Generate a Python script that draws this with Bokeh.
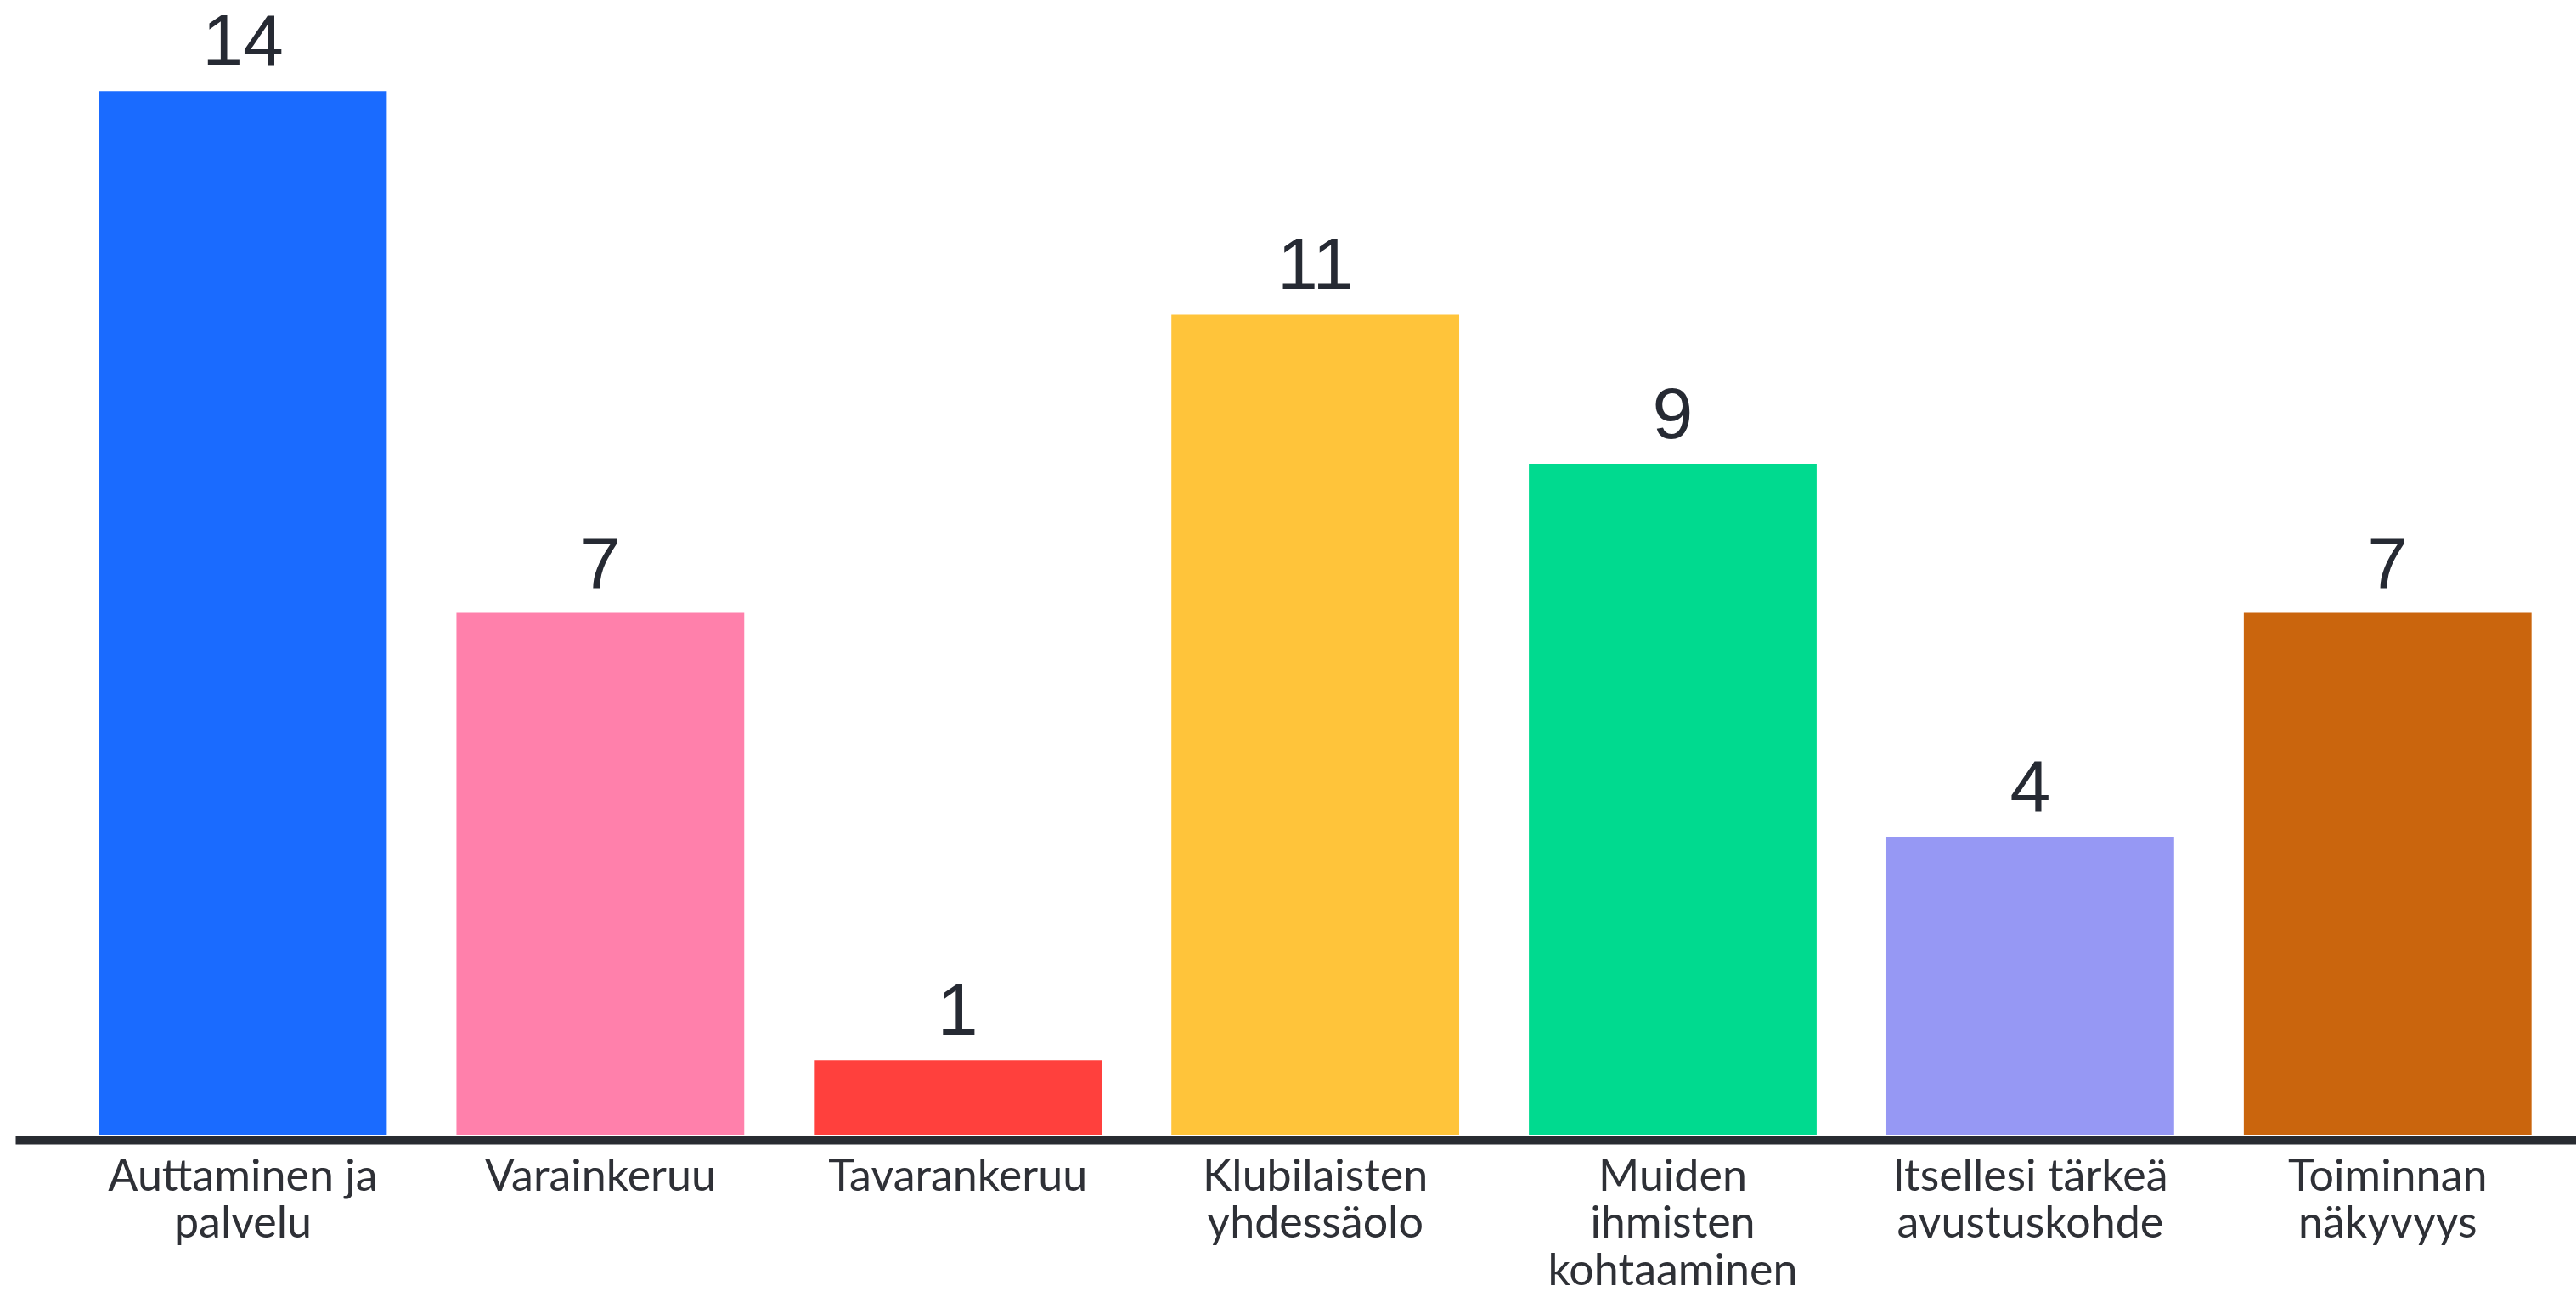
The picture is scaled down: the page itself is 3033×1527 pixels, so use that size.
from bokeh.plotting import figure
from bokeh.models import ColumnDataSource, Range1d, FixedTicker
from bokeh.core.properties import value
from bokeh.embed import file_html
from bokeh.resources import INLINE

categories = [
    "Auttaminen ja\npalvelu",
    "Varainkeruu",
    "Tavarankeruu",
    "Klubilaisten\nyhdessäolo",
    "Muiden\nihmisten\nkohtaaminen",
    "Itsellesi tärkeä\navustuskohde",
    "Toiminnan\nnäkyvyys",
]
counts = [14, 7, 1, 11, 9, 4, 7]
colors = ["#1a6bff", "#ff80ab", "#ff403d", "#ffc43a", "#00da8f", "#9698f4", "#ca650d"]
positions = list(range(len(categories)))

src = ColumnDataSource(dict(x=positions, top=counts, color=colors,
                            label=[str(c) for c in counts]))

p = figure(width=3033, height=1527, output_backend="svg", toolbar_location=None,
           x_range=Range1d(-0.6355, 6.528), y_range=Range1d(-0.074, 15.215),
           y_axis_location=None,
           min_border_left=18, min_border_right=0, min_border_top=0,
           min_border_bottom=180)

p.vbar(x="x", top="top", bottom=0, width=0.805, fill_color="color",
       line_color=None, source=src)
p.text(x="x", y="top", text="label", source=src, text_align="center",
       text_baseline="bottom", y_offset=-30,
       text_font=value("Liberation Sans"), text_font_size="86px",
       text_color="#262a33")

p.xgrid.visible = False
p.ygrid.visible = False
p.outline_line_color = None
p.background_fill_color = "white"
p.border_fill_color = "white"

ax = p.xaxis[0]
ax.ticker = FixedTicker(ticks=positions)
ax.major_label_overrides = {i: c for i, c in enumerate(categories)}
ax.major_tick_line_color = None
ax.minor_tick_line_color = None
ax.major_tick_out = 0
ax.major_tick_in = 0
ax.axis_line_color = "#282b31"
ax.axis_line_width = 10
ax.major_label_standoff = 8
ax.major_label_text_font = "Lato"
ax.major_label_text_font_size = "52px"
ax.major_label_text_color = "#2e3036"
ax.major_label_text_line_height = 0.9

open("out.html", "w").write(file_html(p, INLINE))
